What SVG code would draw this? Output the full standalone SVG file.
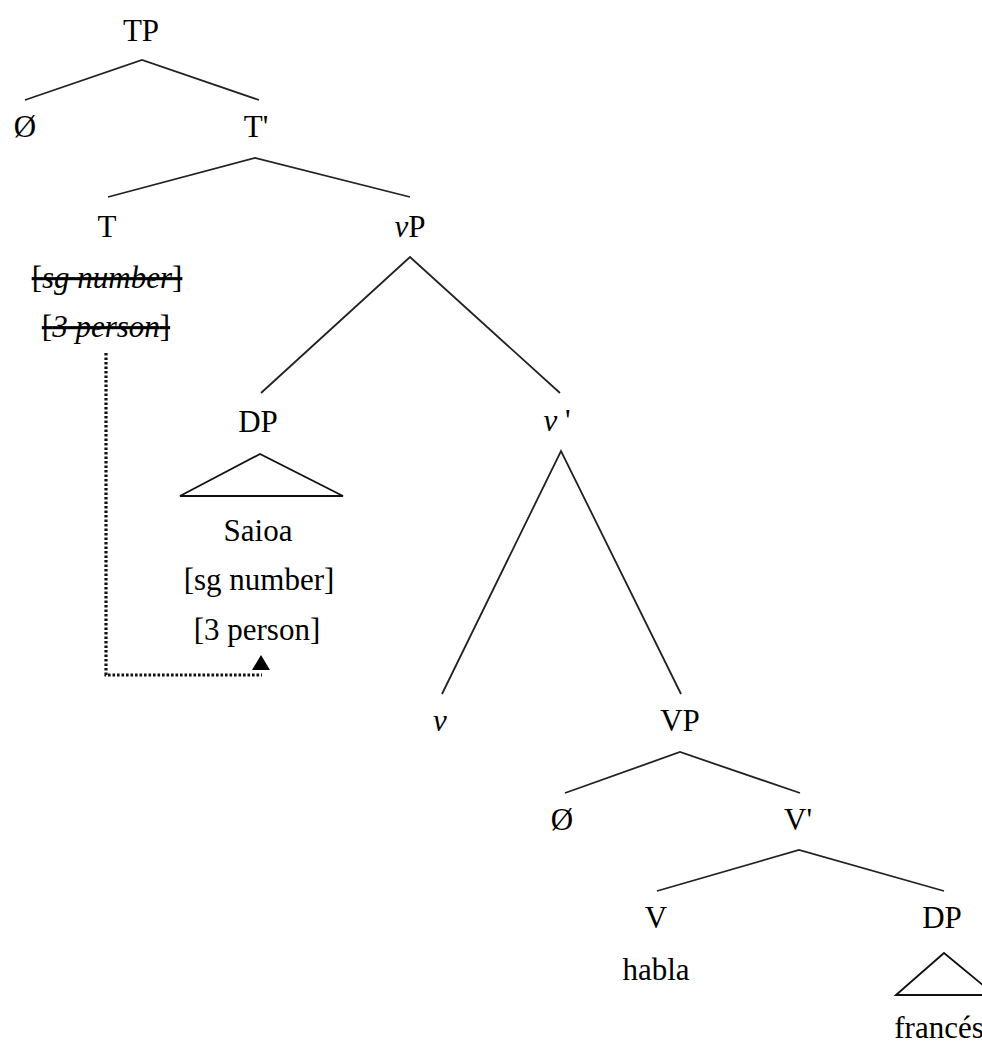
<svg xmlns="http://www.w3.org/2000/svg" width="982" height="1041" viewBox="0 0 982 1041">
<style>
text{font-family:"Liberation Serif","Times New Roman",serif;font-size:31px;fill:#000;text-anchor:middle}
.it{font-style:italic}
.st{text-decoration:line-through}
.edge{stroke:#222;stroke-width:1.8;fill:none}
.tri{stroke:#111;stroke-width:1.8;fill:none}
.dot{stroke:#111;stroke-width:3.2;fill:none;stroke-dasharray:2.6 1.9}
</style>
<rect width="982" height="1041" fill="#fff"/>
<g id="connectors">
<polyline class="edge" points="25,100 142,60 259,100"/>
<polyline class="edge" points="108,197 255,158 410,197"/>
<polyline class="edge" points="261,393 410,257 560,393"/>
<polyline class="edge" points="442,694 561,451 681,694"/>
<polyline class="edge" points="565,793 680,752 800,793"/>
<polyline class="edge" points="657,891 799,850 944,891"/>
<path class="dot" d="M106,353 V675 H262"/>
<polygon points="252,670 261,655 270,670" fill="#000"/>
</g>
<g id="TP"><text x="141" y="41">TP</text></g>
<g id="spec1"><text x="25" y="137">Ø</text></g>
<g id="Tbar"><text x="256" y="137">T'</text></g>
<g id="T"><text x="107" y="237">T</text>
<text x="107" y="288" class="st">[<tspan class="it">sg number</tspan>]</text>
<text x="106" y="337" class="st">[<tspan class="it">3 person</tspan>]</text></g>
<g id="vP"><text x="410" y="237"><tspan class="it">v</tspan>P</text></g>
<g id="DP1"><text x="258" y="432">DP</text>
<polygon class="tri" points="180,496 260,454 343,496"/>
<text x="258" y="541">Saioa</text>
<text x="259" y="590">[sg number]</text>
<text x="257" y="640">[3 person]</text></g>
<g id="vbar"><text x="557" y="431"><tspan class="it">v</tspan> '</text></g>
<g id="v"><text x="440" y="731" class="it">v</text></g>
<g id="VP"><text x="680" y="731">VP</text></g>
<g id="spec2"><text x="562" y="830">Ø</text></g>
<g id="Vbar"><text x="798" y="830">V'</text></g>
<g id="V"><text x="656" y="928">V</text><text x="656" y="980">habla</text></g>
<g id="DP2"><text x="942" y="928">DP</text>
<polygon class="tri" points="896,995 944,953 995,995"/>
<text x="939" y="1038">francés</text></g>
</svg>
